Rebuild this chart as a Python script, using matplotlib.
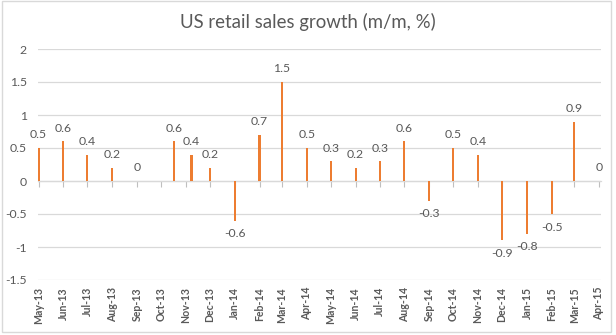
import matplotlib
matplotlib.use("Agg")
import matplotlib.pyplot as plt
import matplotlib.dates as mdates
from matplotlib.patches import Rectangle
import pandas as pd

# monthly retail sales growth, m/m %
release_dates = [
    "2013-05-01", "2013-06-01", "2013-07-01", "2013-08-01", "2013-09-01",
    "2013-10-17", "2013-11-08", "2013-12-01", "2014-01-01", "2014-02-01",
    "2014-03-01", "2014-04-01", "2014-05-01", "2014-06-01", "2014-07-01",
    "2014-08-01", "2014-09-01", "2014-10-01", "2014-11-01", "2014-12-01",
    "2015-01-01", "2015-02-01", "2015-03-01", "2015-04-01",
]
growth = [
    0.5, 0.6, 0.4, 0.2, 0.0,
    0.6, 0.4, 0.2, -0.6, 0.7,
    1.5, 0.5, 0.3, 0.2, 0.3,
    0.6, -0.3, 0.5, 0.4, -0.9,
    -0.8, -0.5, 0.9, 0.0,
]
y_ticks = [-1.5, -1, -0.5, 0, 0.5, 1, 1.5, 2]

TEXT = "#595959"
GRID = "#D9D9D9"
BAR = "#ED7D31"
FONT = ["Lato", "DejaVu Sans"]

plt.rcParams["font.family"] = FONT

x = mdates.date2num(pd.to_datetime(release_dates).to_pydatetime())

fig = plt.figure(figsize=(6.16, 3.35), dpi=100)
W, H = 616, 335
ax = fig.add_axes([38 / W, 1 - 280 / H, (601 - 38) / W, (280 - 49) / H])

ax.bar(x, growth, width=2.6, color=BAR, zorder=3)

for xi, v in zip(x, growth):
    off = -9.5 if v < 0 else 9.5
    ax.annotate(f"{v:g}", (xi, v), xytext=(0, off), textcoords="offset points",
                ha="center", va="center", fontsize=8.8, color=TEXT)

ax.set_xlim(x[0] - 0.7, x[-1] + 2.5)
ax.set_ylim(-1.5, 2)
ax.set_yticks(y_ticks)
ax.set_yticklabels([f"{t:g}" for t in y_ticks])
ax.grid(axis="y", color=GRID, linewidth=0.9, zorder=0)

# zero line acts as the category axis, with short month ticks
for side in ["top", "right", "left"]:
    ax.spines[side].set_visible(False)
ax.spines["bottom"].set_position(("data", 0))
ax.spines["bottom"].set_color(GRID)
ax.spines["bottom"].set_linewidth(0.9)
ax.xaxis.set_major_locator(mdates.MonthLocator())
ax.tick_params(axis="x", length=4, width=0.8, color="#BFBFBF", labelbottom=False)
ax.tick_params(axis="y", length=0, pad=8, labelsize=8.8, labelcolor=TEXT)

# month labels sit below the plot area
sec = ax.secondary_xaxis("bottom")
sec.xaxis.set_major_locator(mdates.MonthLocator())
sec.xaxis.set_major_formatter(mdates.DateFormatter("%b-%y"))
sec.tick_params(axis="x", length=0, pad=5, labelsize=7.6, labelcolor=TEXT,
                labelrotation=90)
for lab in sec.get_xticklabels():
    lab.set_fontweight("bold")
sec.spines["bottom"].set_visible(False)

fig.text(0.5, 1 - 22 / H, "US retail sales growth (m/m, %)", ha="center",
         va="center", fontsize=13.4, color=TEXT)

fig.add_artist(Rectangle((1.5 / W, 1 - 332 / H), 609 / W, 331 / H,
                         transform=fig.transFigure, fill=False,
                         edgecolor=GRID, linewidth=1))

fig.savefig("out.png", dpi=100)
